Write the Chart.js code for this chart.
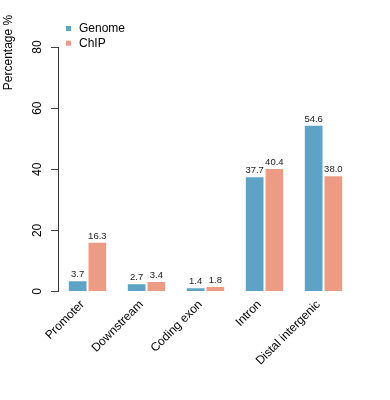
<!DOCTYPE html>
<html>
<head>
<meta charset="utf-8">
<script src="https://cdn.jsdelivr.net/npm/chart.js@4/dist/chart.umd.min.js"></script>
<style>
  html, body { margin: 0; padding: 0; background: #fff; }
  #wrap { width: 390px; height: 400px; position: relative; }
</style>
</head>
<body>
<div id="wrap"><canvas id="c" width="390" height="400"></canvas></div>
<script>
const categories = ["Promoter", "Downstream", "Coding exon", "Intron", "Distal intergenic"];
const genome = [3.7, 2.7, 1.4, 37.7, 54.6];
const chip = [16.3, 3.4, 1.8, 40.4, 38.0];
const seriesNames = ["Genome", "ChIP"];
const seriesColors = ["#5ea3c5", "#ec9c85"];
const yTitle = "Percentage %";
const FONT = "'Liberation Sans', Arial, Helvetica, sans-serif";

const overlay = {
  id: 'overlay',
  afterDatasetsDraw(chart) {
    const ctx = chart.ctx;
    ctx.save();
    // value labels
    ctx.font = "9.5px " + FONT;
    ctx.fillStyle = "#222";
    ctx.textAlign = "center";
    ctx.textBaseline = "alphabetic";
    chart.data.datasets.forEach((ds, di) => {
      const meta = chart.getDatasetMeta(di);
      meta.data.forEach((bar, i) => {
        ctx.fillText(ds.data[i].toFixed(1), bar.x, bar.y - 3);
      });
    });
    // y title
    ctx.font = "12px " + FONT;
    ctx.fillStyle = "#000";
    ctx.save();
    ctx.translate(9, 52.5);
    ctx.rotate(-Math.PI / 2);
    ctx.textAlign = "center";
    ctx.textBaseline = "middle";
    ctx.fillText(yTitle, 0, 0);
    ctx.restore();
    // legend
    ctx.textAlign = "left";
    ctx.textBaseline = "middle";
    seriesNames.forEach((n, i) => {
      const y = 28.5 + i * 14.7;
      ctx.fillStyle = seriesColors[i];
      ctx.fillRect(66, y - 2.5, 5, 5);
      ctx.fillStyle = "#000";
      ctx.fillText(n, 79, y);
    });
    ctx.restore();
  }
};

new Chart(document.getElementById('c'), {
  type: 'bar',
  data: {
    labels: categories,
    datasets: [
      { label: seriesNames[0], data: genome, backgroundColor: seriesColors[0], borderColor: "rgba(255,255,255,0.55)", borderWidth: 1 },
      { label: seriesNames[1], data: chip, backgroundColor: seriesColors[1], borderColor: "rgba(255,255,255,0.55)", borderWidth: 1 }
    ]
  },
  options: {
    responsive: false,
    animation: false,
    devicePixelRatio: 1,
    layout: { padding: { top: 47, right: 37, bottom: 0, left: 0 } },
    plugins: { legend: { display: false }, tooltip: { enabled: false } },
    datasets: { bar: { categoryPercentage: 0.667, barPercentage: 1.0 } },
    scales: {
      x: {
        grid: { display: false, drawTicks: false },
        border: { display: false },
        ticks: {
          autoSkip: false, minRotation: 45, maxRotation: 45, padding: 6, labelOffset: -5,
          color: "#000", font: { family: FONT, size: 12 }
        },
        afterFit(s) { s.height = 108.5; }
      },
      y: {
        min: 0, max: 80,
        grid: { drawOnChartArea: false, drawTicks: true, tickLength: 7, color: "#444" },
        border: { display: true, color: "#333", width: 1 },
        ticks: {
          stepSize: 20, minRotation: 90, maxRotation: 90, crossAlign: 'center', padding: 7,
          color: "#000", font: { family: FONT, size: 12 }
        },
        afterFit(s) { s.width = 58; }
      }
    }
  },
  plugins: [overlay]
});
</script>
</body>
</html>
